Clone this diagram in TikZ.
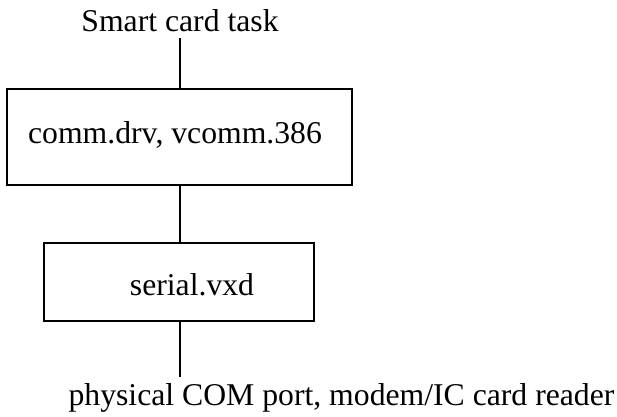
\documentclass[tikz,border=0pt]{standalone}
\usepackage{fontspec}
\setmainfont{Liberation Serif}
\usetikzlibrary{positioning,calc}
\tikzset{
  wire/.style={draw=black, line width=1.7pt},
  box/.style={draw=black, line width=1.7pt, fill=white, inner sep=0pt},
  txt/.style={font=\fontsize{31.7}{38}\selectfont, inner sep=0pt, anchor=base},
}

\begin{document}
\begin{tikzpicture}[x=1pt,y=-1pt]
\useasboundingbox (0,0) rectangle (617,416);

% ---- Top ----
\node[txt] (task) at (180,31) {Smart card task};
\coordinate (taskend) at (180,38);

% ---- Drivers ----
\node[box, minimum width=345pt, minimum height=96pt] (comm) at (179.5,137) {};
\node[txt] (commtxt) at (175,143) {comm.drv, vcomm.386};

\node[box, minimum width=270pt, minimum height=78pt] (serial) at (179,282) {};
\node[txt] (serialtxt) at (192,295) {serial.vxd};

% ---- Bottom ----
\coordinate (portend) at (180,377);
\node[txt] (port) at (341.5,405) {physical COM port, modem/IC card reader};

% ---- Wires ----
\draw[wire] (taskend) -- (taskend |- comm.north);
\draw[wire] (taskend |- comm.south) -- (taskend |- serial.north);
\draw[wire] (taskend |- serial.south) -- (portend);

\end{tikzpicture}
\end{document}
